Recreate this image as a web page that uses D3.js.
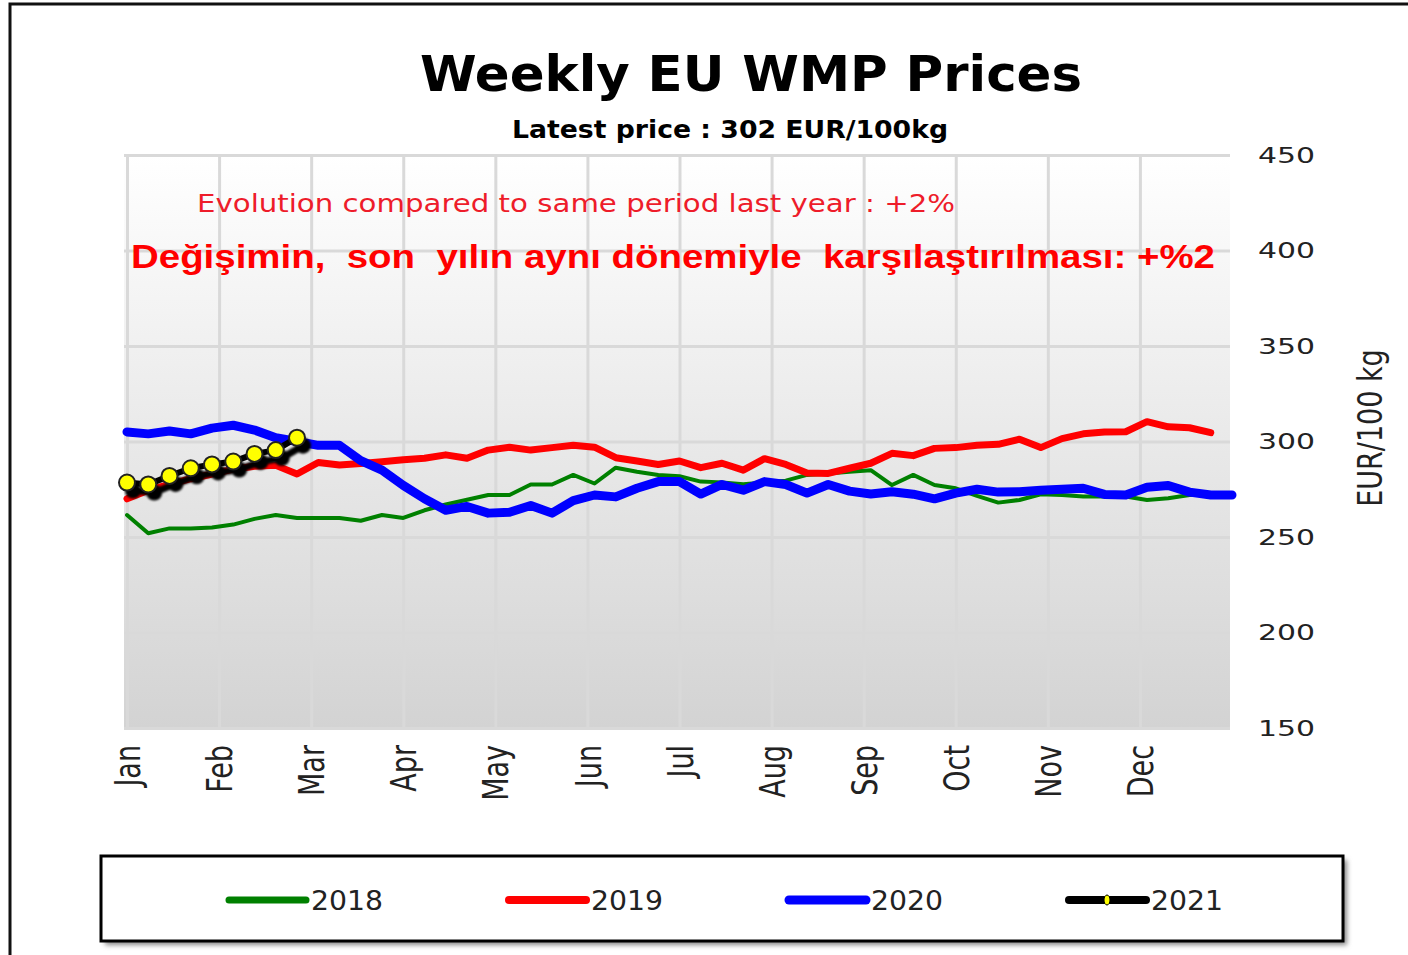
<!DOCTYPE html>
<html>
<head>
<meta charset="utf-8">
<script src="https://cdn.jsdelivr.net/npm/d3@7"></script>
<style>
  body { margin: 0; background: #fff; }
  svg { display: block; }
</style>
</head>
<body>
<svg id="chart" width="1408" height="955"></svg>
<script>
const months = ['Jan', 'Feb', 'Mar', 'Apr', 'May', 'Jun', 'Jul', 'Aug', 'Sep', 'Oct', 'Nov', 'Dec'];
const yTicks = [150, 200, 250, 300, 350, 400, 450];
const years = ['2018', '2019', '2020', '2021'];

// weekly prices, EUR/100kg (week 1 .. 53)
const prices2018 = [261.5, 252, 254.5, 254.5, 255, 256.5, 259.5, 261.5, 260, 260, 260, 258.5, 261.5, 260, 264, 267,
  269.5, 272, 272, 277.5, 277.5, 282.5, 278, 286.3, 284.2, 282.5, 281.8, 279, 278.6, 277.6, 278.5, 279.5, 282.5,
  283.3, 284.2, 285, 277.2, 282.5, 277.2, 275.5, 271.5, 268, 269.4, 272.4, 272, 271.2, 271.2, 271.2, 269.4, 270.3,
  272, 272, 272];
const prices2019 = [270, 274.5, 277.5, 280.5, 283, 285.5, 287, 287.5, 283, 289, 287.7, 288.5, 289.4, 290.5, 291.2,
  293, 291.2, 295.5, 297, 295.5, 296.8, 298, 297, 291.5, 289.8, 288, 289.8, 286.3, 288.6, 285, 291, 288, 283.5,
  283.3, 286, 288.6, 293.8, 292.6, 296.4, 296.8, 298, 298.5, 301.2, 296.8, 301.5, 304, 305, 305.1, 310.4, 307.7,
  307.2, 304.6];
const prices2020 = [305, 304, 305.5, 304, 307, 308.5, 306, 302, 300, 298, 298, 290, 285, 277, 270, 264, 266, 262.5,
  263, 266.5, 262.5, 269, 272, 271, 275.5, 279, 279, 272.5, 277.5, 274.5, 279, 277.5, 273, 277.5, 274, 272.5, 273.7,
  272.4, 270, 273, 275, 273.5, 273.7, 274.5, 275, 275.5, 272.3, 272, 276, 277, 273.5, 272, 272];
const prices2021 = [278.5, 277.5, 282, 286, 288, 289.5, 293.5, 295.5, 302];

(function() {

const svg = d3.select('#chart');
const plot = {left: 124, right: 1230, top: 155, bottom: 728};

const x = d3.scaleLinear().domain([0, 52]).range([127, 1232]);
const y = d3.scaleLinear().domain([150, 450]).range([plot.bottom, plot.top]);
const color = d3.scaleOrdinal().domain(years).range(['#008000', '#ff0000', '#0000ff', '#000000']);
const widths = {'2018': 4, '2019': 7, '2020': 9};

const defs = svg.append('defs');
const grad = defs.append('linearGradient')
  .attr('id', 'bg')
  .attr('x1', 0).attr('y1', 0).attr('x2', 0).attr('y2', 1);
grad.append('stop').attr('offset', '0%').attr('stop-color', '#ffffff');
grad.append('stop').attr('offset', '100%').attr('stop-color', '#d3d3d3');

defs.append('filter').attr('id', 'blur')
  .append('feGaussianBlur').attr('stdDeviation', 1.2);
defs.append('filter').attr('id', 'blur2')
  .append('feGaussianBlur').attr('stdDeviation', 2.5);

// outer frame (cut by the right and bottom edges)
svg.append('rect')
  .attr('x', 10).attr('y', 4)
  .attr('width', 1440).attr('height', 1000)
  .attr('fill', 'none')
  .attr('stroke', '#111')
  .attr('stroke-width', 3);

svg.append('rect')
  .attr('x', plot.left).attr('y', plot.top)
  .attr('width', plot.right - plot.left)
  .attr('height', plot.bottom - plot.top)
  .attr('fill', 'url(#bg)');

// month grid + labels
const xAxis = svg.append('g')
  .attr('transform', `translate(0,${plot.bottom})`)
  .call(d3.axisBottom(x)
    .tickValues(months.map((m, i) => i * 52 / 12))
    .tickFormat((d, i) => months[i])
    .tickSize(-(plot.bottom - plot.top)));
xAxis.select('.domain').remove();
xAxis.selectAll('line').attr('stroke', '#d9d9d9').attr('stroke-width', 3);
xAxis.selectAll('text')
  .attr('transform', 'rotate(-90) scale(1,1.3)')
  .attr('x', -17)
  .attr('y', 0)
  .attr('dy', '0.36em')
  .attr('text-anchor', 'end')
  .attr('fill', '#222')
  .style('font', '27px "DejaVu Sans"');

// price grid + labels on the right
const yAxis = svg.append('g')
  .attr('transform', `translate(${plot.right},0)`)
  .call(d3.axisRight(y)
    .tickValues(yTicks)
    .tickSize(-(plot.right - plot.left))
    .tickPadding(28));
yAxis.select('.domain').remove();
yAxis.selectAll('line').attr('stroke', '#d9d9d9').attr('stroke-width', 3);
yAxis.selectAll('text')
  .attr('fill', '#222')
  .attr('textLength', 57)
  .attr('lengthAdjust', 'spacingAndGlyphs')
  .style('font', '22px "DejaVu Sans"');

svg.append('text')
  .attr('transform', 'translate(1370,428) rotate(-90) scale(1,1.25)')
  .attr('text-anchor', 'middle')
  .attr('dy', '0.36em')
  .attr('fill', '#222')
  .style('font', '27px "DejaVu Sans"')
  .text('EUR/100 kg');

// titles
svg.append('text')
  .attr('x', 751).attr('y', 91)
  .attr('text-anchor', 'middle')
  .attr('textLength', 662)
  .attr('lengthAdjust', 'spacingAndGlyphs')
  .attr('fill', '#000')
  .style('font', 'bold 50px "DejaVu Sans"')
  .text('Weekly EU WMP Prices');

svg.append('text')
  .attr('x', 730).attr('y', 138)
  .attr('text-anchor', 'middle')
  .attr('textLength', 436)
  .attr('lengthAdjust', 'spacingAndGlyphs')
  .attr('fill', '#000')
  .style('font', 'bold 25px "DejaVu Sans"')
  .text('Latest price : 302 EUR/100kg');

svg.append('text')
  .attr('x', 197).attr('y', 212)
  .attr('textLength', 758)
  .attr('lengthAdjust', 'spacingAndGlyphs')
  .attr('fill', '#ee1c2a')
  .style('font', '25px "DejaVu Sans"')
  .text('Evolution compared to same period last year : +2%');

svg.append('text')
  .attr('x', 131).attr('y', 268)
  .attr('textLength', 1084)
  .attr('lengthAdjust', 'spacingAndGlyphs')
  .attr('fill', '#ff0000')
  .style('font', 'bold 34px "Liberation Sans"')
  .style('white-space', 'pre')
  .text('Değişimin,  son  yılın aynı dönemiyle  karşılaştırılması: +%2');

// series
const line = d3.line()
  .x((d, i) => x(i))
  .y(d => y(d));

const series = [
  {year: '2018', values: prices2018},
  {year: '2019', values: prices2019},
  {year: '2020', values: prices2020}
];

svg.append('g')
  .selectAll('path')
  .data(series)
  .enter().append('path')
    .attr('d', d => line(d.values))
    .attr('fill', 'none')
    .attr('stroke', d => color(d.year))
    .attr('stroke-width', d => widths[d.year])
    .attr('stroke-linejoin', 'round')
    .attr('stroke-linecap', 'round');

// 2021 with drop shadow
const shadow = svg.append('g')
  .attr('transform', 'translate(6,8)')
  .attr('filter', 'url(#blur)');
shadow.append('path')
  .attr('d', line(prices2021))
  .attr('fill', 'none')
  .attr('stroke', '#000')
  .attr('stroke-width', 7);
shadow.selectAll('circle')
  .data(prices2021)
  .enter().append('circle')
    .attr('cx', (d, i) => x(i))
    .attr('cy', d => y(d))
    .attr('r', 8)
    .attr('fill', '#000');

svg.append('path')
  .attr('d', line(prices2021))
  .attr('fill', 'none')
  .attr('stroke', '#000')
  .attr('stroke-width', 6)
  .attr('stroke-linejoin', 'round');

svg.append('g')
  .selectAll('circle')
  .data(prices2021)
  .enter().append('circle')
    .attr('cx', (d, i) => x(i))
    .attr('cy', d => y(d))
    .attr('r', 8)
    .attr('fill', '#ffff00')
    .attr('stroke', '#222')
    .attr('stroke-width', 2);

// legend
svg.append('rect')
  .attr('x', 105).attr('y', 860)
  .attr('width', 1242).attr('height', 85)
  .attr('fill', '#888')
  .attr('filter', 'url(#blur2)');
svg.append('rect')
  .attr('x', 101).attr('y', 856)
  .attr('width', 1242).attr('height', 85)
  .attr('fill', '#fff')
  .attr('stroke', '#000')
  .attr('stroke-width', 3);

const item = svg.append('g')
  .selectAll('g')
  .data(years)
  .enter().append('g')
    .attr('transform', (d, i) => `translate(${229 + i * 280},900)`);

item.append('line')
  .attr('x1', 0).attr('x2', 77)
  .attr('stroke', d => color(d))
  .attr('stroke-width', (d, i) => [7, 8, 9, 8][i])
  .attr('stroke-linecap', 'round');

item.filter(d => d === '2021').append('ellipse')
  .attr('cx', 38).attr('rx', 3).attr('ry', 5)
  .attr('fill', '#ffff00')
  .attr('stroke', '#000')
  .attr('stroke-width', 1);

item.append('text')
  .attr('x', 82)
  .attr('dy', '0.36em')
  .attr('textLength', 72)
  .attr('lengthAdjust', 'spacingAndGlyphs')
  .attr('fill', '#222')
  .style('font', '27px "DejaVu Sans"')
  .text(d => d);

})();
</script>
</body>
</html>
